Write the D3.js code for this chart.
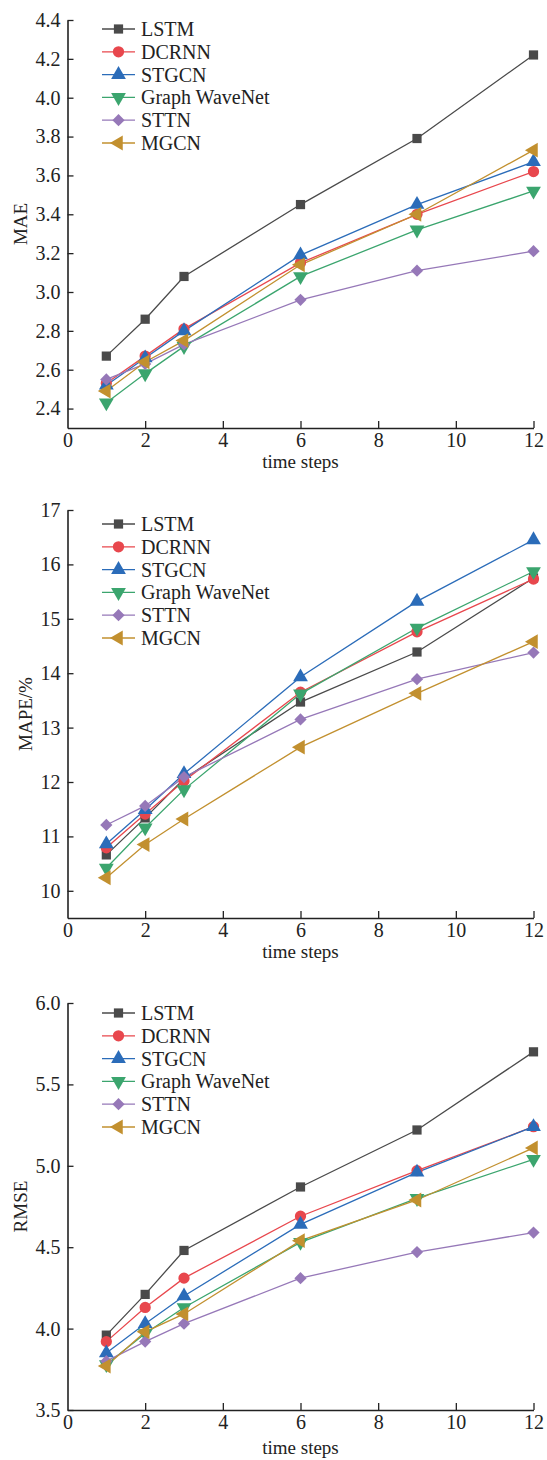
<!DOCTYPE html>
<html>
<head>
<meta charset="utf-8">
<script src="https://cdn.jsdelivr.net/npm/d3@7"></script>
<style>
body { margin: 0; background: #fff; }
svg text { font-family: "Liberation Serif", "DejaVu Serif", serif; fill: #222; }
</style>
</head>
<body>
<div id="chart"></div>
<script>
var steps = [1, 2, 3, 6, 9, 12];
var models = ["LSTM", "DCRNN", "STGCN", "Graph WaveNet", "STTN", "MGCN"];
var colors = ["#4a4a4a", "#e8474d", "#2b6cb9", "#3ba56e", "#9678b8", "#c2902f"];

// MAE
var maeLSTM = [2.67, 2.86, 3.08, 3.45, 3.79, 4.22];
var maeDCRNN = [2.53, 2.67, 2.81, 3.15, 3.40, 3.62];
var maeSTGCN = [2.52, 2.66, 2.80, 3.19, 3.45, 3.67];
var maeGWN = [2.43, 2.58, 2.72, 3.08, 3.32, 3.52];
var maeSTTN = [2.55, 2.63, 2.73, 2.96, 3.11, 3.21];
var maeMGCN = [2.49, 2.64, 2.75, 3.14, 3.40, 3.73];

// MAPE
var mapeLSTM = [10.66, 11.34, 12.06, 13.47, 14.39, 15.75];
var mapeDCRNN = [10.79, 11.41, 12.02, 13.65, 14.76, 15.73];
var mapeSTGCN = [10.86, 11.49, 12.15, 13.93, 15.32, 16.45];
var mapeGWN = [10.42, 11.16, 11.86, 13.62, 14.83, 15.87];
var mapeSTTN = [11.21, 11.56, 12.09, 13.15, 13.89, 14.38];
var mapeMGCN = [10.24, 10.85, 11.32, 12.64, 13.63, 14.58];

// RMSE
var rmseLSTM = [3.96, 4.21, 4.48, 4.87, 5.22, 5.70];
var rmseDCRNN = [3.92, 4.13, 4.31, 4.69, 4.97, 5.24];
var rmseSTGCN = [3.85, 4.03, 4.20, 4.64, 4.96, 5.24];
var rmseGWN = [3.78, 3.97, 4.13, 4.53, 4.80, 5.04];
var rmseSTTN = [3.80, 3.92, 4.03, 4.31, 4.47, 4.59];
var rmseMGCN = [3.77, 3.98, 4.09, 4.54, 4.79, 5.11];

var xTicks = [0, 2, 4, 6, 8, 10, 12];
var maeTicks = [2.4, 2.6, 2.8, 3.0, 3.2, 3.4, 3.6, 3.8, 4.0, 4.2, 4.4];
var mapeTicks = [10, 11, 12, 13, 14, 15, 16, 17];
var rmseTicks = [3.5, 4.0, 4.5, 5.0, 5.5, 6.0];

var panels = [
  { label: "MAE", series: [maeLSTM, maeDCRNN, maeSTGCN, maeGWN, maeSTTN, maeMGCN],
    domain: [2.3, 4.4], ticks: maeTicks, fmt: d3.format(".1f"), top: 20, bottom: 428,
    labelX: 27, titleGap: 40, legendY: 29 },
  { label: "MAPE/%", series: [mapeLSTM, mapeDCRNN, mapeSTGCN, mapeGWN, mapeSTTN, mapeMGCN],
    domain: [9.5, 17], ticks: mapeTicks, fmt: d3.format("d"), top: 510, bottom: 918,
    labelX: 32, titleGap: 40, legendY: 524 },
  { label: "RMSE", series: [rmseLSTM, rmseDCRNN, rmseSTGCN, rmseGWN, rmseSTTN, rmseMGCN],
    domain: [3.5, 6.0], ticks: rmseTicks, fmt: d3.format(".1f"), top: 1003, bottom: 1410,
    labelX: 27, titleGap: 44, legendY: 1013 }
];

// marker shape per model
var shapes = [
  { type: d3.symbolSquare, size: 85, rot: 0 },
  { type: d3.symbolCircle, size: 100, rot: 0 },
  { type: d3.symbolTriangle, size: 95, rot: 0 },
  { type: d3.symbolTriangle, size: 95, rot: 180 },
  { type: d3.symbolSquare, size: 75, rot: 45 },
  { type: d3.symbolTriangle, size: 95, rot: -90 }
];

var svg = d3.select("#chart")
  .append("svg")
  .attr("width", 547)
  .attr("height", 1460);

var x = d3.scaleLinear().domain([0, 12]).range([67.5, 533.5]);

function marker(g, i, cx, cy) {
  var s = shapes[i];
  g.append("path")
    .attr("d", d3.symbol().type(s.type).size(s.size)())
    .attr("transform", "translate(" + cx + "," + cy + ") rotate(" + s.rot + ")")
    .attr("fill", colors[i]);
}

panels.forEach(function(p) {
  var y = d3.scaleLinear().domain(p.domain).range([p.bottom, p.top]);
  var g = svg.append("g");

  // lines first, markers on top
  p.series.forEach(function(vals, i) {
    var pts = steps.map(function(s, k) { return [s, vals[k]]; });
    g.append("path")
      .datum(pts)
      .attr("fill", "none")
      .attr("stroke", colors[i])
      .attr("stroke-width", 1.3)
      .attr("d", d3.line().x(function(d) { return x(d[0]); }).y(function(d) { return y(d[1]); }));
  });
  p.series.forEach(function(vals, i) {
    steps.forEach(function(s, k) { marker(g, i, x(s), y(vals[k])); });
  });

  // x axis, ticks pointing inward
  var xa = g.append("g")
    .attr("transform", "translate(0," + p.bottom + ")")
    .call(d3.axisBottom(x).tickValues(xTicks).tickSizeInner(-7).tickSizeOuter(0).tickPadding(5));
  xa.select(".domain").attr("stroke", "#222").attr("stroke-width", 1.6);
  xa.selectAll(".tick line").attr("stroke", "#222").attr("stroke-width", 1.3);
  xa.selectAll(".tick").filter(function(d) { return d === 0; }).select("line").remove();
  xa.selectAll("text").attr("font-size", 20).attr("fill", "#222");

  // y axis
  var ya = g.append("g")
    .attr("transform", "translate(67.5,0)")
    .call(d3.axisLeft(y).tickValues(p.ticks).tickFormat(p.fmt).tickSizeInner(-6).tickSizeOuter(0).tickPadding(7));
  ya.select(".domain").attr("stroke", "#222").attr("stroke-width", 1.6);
  ya.selectAll(".tick line").attr("stroke", "#222").attr("stroke-width", 1.3);
  ya.selectAll("text").attr("font-size", 20).attr("fill", "#222").attr("x", -7);

  // axis titles
  g.append("text")
    .attr("x", x(6))
    .attr("y", p.bottom + p.titleGap)
    .attr("text-anchor", "middle")
    .attr("font-size", 19)
    .text("time steps");
  g.append("text")
    .attr("transform", "translate(" + p.labelX + "," + (p.top + p.bottom) / 2 + ") rotate(-90)")
    .attr("text-anchor", "middle")
    .attr("font-size", 19)
    .text(p.label);

  // legend
  models.forEach(function(m, i) {
    var ly = p.legendY + i * 22.8;
    g.append("line")
      .attr("x1", 102).attr("x2", 135)
      .attr("y1", ly).attr("y2", ly)
      .attr("stroke", colors[i]).attr("stroke-width", 1.3);
    marker(g, i, 118.5, ly);
    g.append("text")
      .attr("x", 141)
      .attr("y", ly)
      .attr("dy", "0.35em")
      .attr("font-size", 20)
      .text(m);
  });
});
</script>
</body>
</html>
